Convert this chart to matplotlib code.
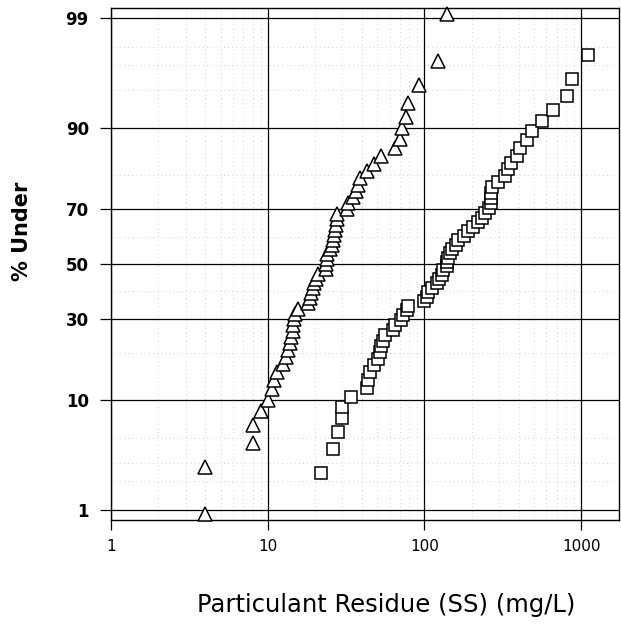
import matplotlib
matplotlib.use('Agg')
import matplotlib.pyplot as plt
import numpy as np
from statistics import NormalDist

plt.rcParams['font.family'] = ['DejaVu Sans']

# Triangle series (sorted values, mg/L), 55 observations
tri_values = [4.0, 4.0, 8.0, 8.0, 9.0, 10.0, 10.7, 11.0, 11.5, 12.5,
              13.1, 13.5, 13.9, 14.1, 14.4, 14.5, 14.7, 14.9, 15.7, 18.2,
              18.6, 18.8, 19.5, 19.8, 20.3, 21.0, 23.5, 23.6, 23.8, 24.0,
              25.0, 25.6, 26.0, 26.5, 27.0, 27.3, 27.5, 27.8, 31.9, 32.7,
              35.1, 36.5, 37.5, 38.8, 43.0, 48.0, 53.0, 65.0, 69.6, 71.5,
              76.0, 79.0, 93.0, 123.0, 140.0]
tri_total = 55
tri_first_rank = 1

# Square series (sorted values, mg/L), ranks 2..61 of 62
sq_values = [22.0, 26.0, 28.0, 29.9, 30.0, 33.9, 43.0, 43.9, 45.3, 48.0,
             50.5, 52.0, 52.5, 54.7, 56.1, 63.3, 65.4, 70.9, 73.3, 77.1,
             78.6, 99.4, 103.9, 106.2, 111.4, 119.8, 124.5, 128.9, 132.4, 138.8,
             140.4, 142.1, 145.6, 150.0, 159.1, 164.5, 178.9, 190.6, 204.2, 220.7,
             232.1, 243.6, 258.4, 265.0, 266.0, 267.0, 268.5, 295.0, 326.9, 343.0,
             356.9, 388.0, 407.5, 449.6, 483.9, 560.5, 664.7, 809.6, 871.0, 1107.0]
sq_total = 62
sq_first_rank = 2

y_major = [1, 10, 30, 50, 70, 90, 99]
y_minor = [2, 3, 5, 20, 40, 60, 80, 95, 97, 98]
x_major = [1, 10, 100, 1000]
x_labels = ['1', '10', '100', '1000']

nd = NormalDist()
def z_of(pct):
    return [nd.inv_cdf(p / 100.0) for p in pct]

def positions(n_vals, total, first):
    ranks = np.arange(first, first + n_vals)
    return [nd.inv_cdf((r - 0.5) / total) for r in ranks]

W, H = 621, 628
fig = plt.figure(figsize=(W / 100, H / 100), dpi=100)
ax = fig.add_axes([111 / W, 1 - 520 / H, 508 / W, 512 / H])

ax.set_xscale('log')
ax.set_xlim(1, 10 ** 3.242)
ax.set_ylim(-2.42, 2.42)

# minor dotted grid
for xm in [m * 10 ** d for d in range(0, 4) for m in range(2, 10)]:
    if xm < 10 ** 3.242:
        ax.axvline(xm, color='#aaaaaa', lw=0.5, ls=(0, (1, 5)), zorder=0)
for zm in z_of(y_minor):
    ax.axhline(zm, color='#aaaaaa', lw=0.5, ls=(0, (1, 5)), zorder=0)
# major grid
for xv in x_major:
    ax.axvline(xv, color='black', lw=0.9, zorder=1)
for zv in z_of(y_major):
    ax.axhline(zv, color='black', lw=0.9, zorder=1)

ax.plot(tri_values, positions(len(tri_values), tri_total, tri_first_rank),
        ls='none', marker='^', ms=9.5, mfc='white', mec='black', mew=1.1, zorder=3,
        clip_on=False)
ax.plot(sq_values, positions(len(sq_values), sq_total, sq_first_rank),
        ls='none', marker='s', ms=8.5, mfc='white', mec='black', mew=1.1, zorder=3,
        clip_on=False)

ax.set_yticks(z_of(y_major))
ax.set_yticklabels([str(v) for v in y_major], fontsize=12, fontweight='bold')
ax.set_xticks(x_major)
ax.set_xticklabels(x_labels, fontsize=11)
ax.xaxis.set_minor_locator(matplotlib.ticker.NullLocator())
ax.tick_params(axis='y', direction='out', length=8, width=0.9, pad=8)
ax.tick_params(axis='x', direction='out', length=7, width=0.9, pad=7)

for s in ax.spines.values():
    s.set_linewidth(1.0)

fig.text(22 / W, 1 - 231 / H, '% Under', rotation=90, fontsize=15,
         fontweight='bold', ha='center', va='center')
fig.text(386 / W, 1 - 605 / H, 'Particulant Residue (SS) (mg/L)', fontsize=17.5,
         ha='center', va='center')

fig.savefig('out.png', dpi=100)
